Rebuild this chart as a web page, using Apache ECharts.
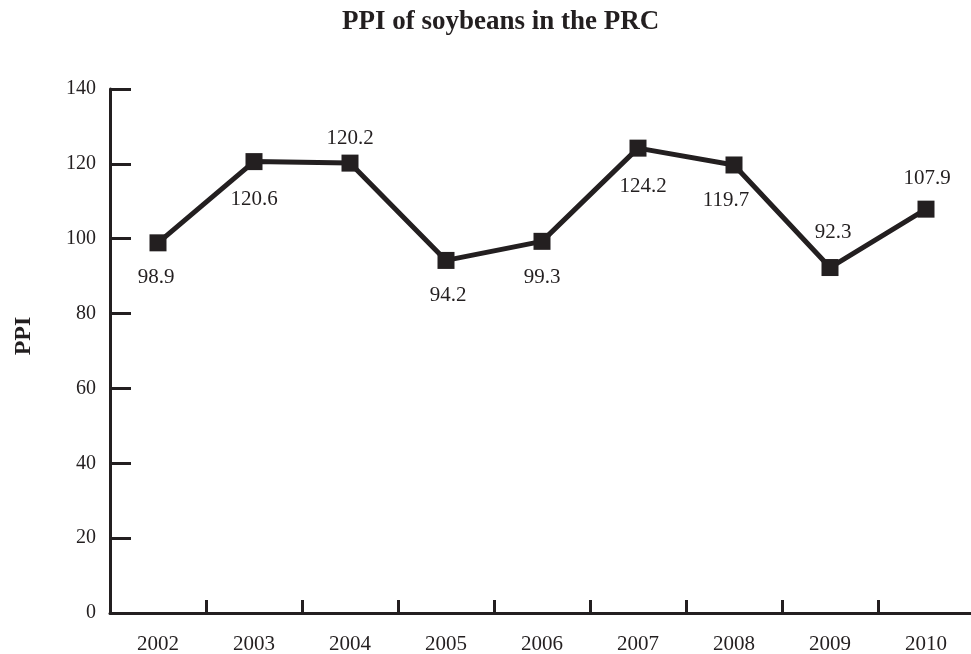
<!DOCTYPE html>
<html><head><meta charset="utf-8">
<script src="https://cdn.jsdelivr.net/npm/echarts@6/dist/echarts.min.js"></script>
<style>html,body{margin:0;padding:0;background:#fff}#c{width:971px;height:654px}</style>
</head><body><div id="c"></div>
<script>
const categories = ['2002','2003','2004','2005','2006','2007','2008','2009','2010'];
const ppiValues = [98.9, 120.6, 120.2, 94.2, 99.3, 124.2, 119.7, 92.3, 107.9];
const labelOffsets = [[-2,35],[0,38],[0,-25],[2,35],[0,36],[5,38],[-8,36],[3,-35],[1,-31]];
const yTicks = [0,20,40,60,80,100,120,140];

const ink = '#231f20';
const font = 'Liberation Serif, Times New Roman, serif';
const chart = echarts.init(document.getElementById('c'));
chart.setOption({
  backgroundColor: '#fff',
  animation: false,
  textStyle: { fontFamily: font },
  title: {
    text: 'PPI of soybeans in the PRC',
    left: 337, top: 4,
    textStyle: { fontFamily: font, fontSize: 27, fontWeight: 'bold', color: ink }
  },
  graphic: [{
    type: 'text',
    x: 24, y: 336,
    rotation: Math.PI / 2,
    style: {
      text: 'PPI', fill: ink, font: 'bold 24px Liberation Serif',
      align: 'center', verticalAlign: 'middle'
    }
  }],
  grid: { left: 110, width: 864, top: 89, bottom: 41, containLabel: false, outerBoundsMode: 'none' },
  xAxis: {
    type: 'category',
    data: categories,
    boundaryGap: true,
    axisLine: { show: true, lineStyle: { color: ink, width: 3 } },
    axisTick: { show: true, inside: true, length: 13, alignWithLabel: false, lineStyle: { color: ink, width: 3 } },
    axisLabel: { color: ink, fontSize: 21, fontFamily: font, margin: 21 },
    splitLine: { show: false }
  },
  yAxis: {
    type: 'value',
    min: yTicks[0], max: yTicks[yTicks.length-1], interval: 20,
    axisLine: { show: true, lineStyle: { color: ink, width: 3 } },
    axisTick: { show: true, inside: true, length: 21, lineStyle: { color: ink, width: 3 } },
    axisLabel: { color: ink, fontSize: 20, fontFamily: font, margin: 14 },
    splitLine: { show: false }
  },
  series: [{
    type: 'line',
    data: ppiValues.map((v, i) => ({
      value: v,
      label: { show: true, position: 'inside', offset: labelOffsets[i] }
    })),
    symbol: 'rect',
    symbolSize: 17,
    lineStyle: { color: ink, width: 5 },
    itemStyle: { color: ink },
    label: { color: ink, fontSize: 21, fontFamily: font, formatter: p => p.value.toFixed(1) }
  }]
});
</script></body></html>
